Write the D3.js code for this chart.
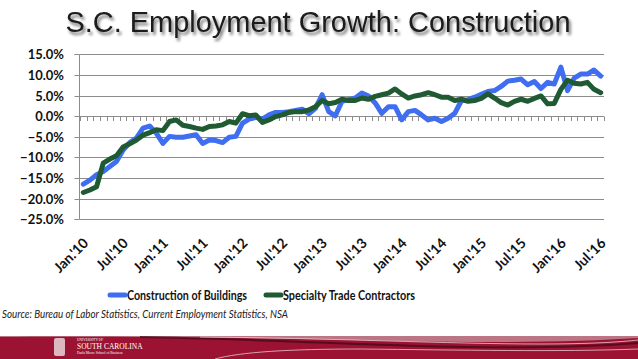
<!DOCTYPE html>
<html>
<head>
<meta charset="utf-8">
<script src="https://cdn.jsdelivr.net/npm/d3@7"></script>
<style>
  body { margin: 0; background: #fff; }
  svg { display: block; }
  .grid line { stroke: #8c8c8c; stroke-width: 1; }
  .axis text { font-family: Lato, "Liberation Sans", sans-serif; font-weight: bold; fill: #111; }
</style>
</head>
<body>
<div id="chart"></div>
<script>
// Monthly, Jan 2010 - Jul 2016, year-over-year % change
const months = d3.range(79).map(i => new Date(2010, i, 1));
const buildings = [
  -16.5, -15.5, -14.2, -13.4, -12.2, -11.0, -8.2, -6.4, -5.3, -2.9, -2.4, -4.1,
  -6.6, -4.9, -5.1, -5.1, -4.8, -4.5, -6.6, -5.8, -5.9, -6.4, -5.1, -4.9,
  -1.7, -0.7, -0.3, -0.7, 0.3, 0.9, 0.9, 1.1, 1.4, 1.7, 0.6, 1.9,
  5.2, 1.1, 0.1, 3.6, 4.0, 4.4, 5.6, 4.9, 3.2, 0.7, 2.3, 2.3,
  -0.9, 1.1, 1.4, 0.3, -0.9, -0.5, -1.3, -0.5, 0.7, 3.8, 4.0, 4.6,
  5.3, 6.0, 6.2, 7.2, 8.5, 8.7, 9.0, 7.6, 8.4, 6.7, 8.2, 7.8,
  11.9, 6.2, 9.2, 10.2, 10.2, 11.2, 9.7
];
const specialty = [
  -18.5, -17.9, -17.1, -11.4, -10.4, -9.6, -7.5, -6.7, -5.8, -4.6, -4.0, -3.3,
  -3.5, -1.3, -0.9, -2.2, -2.5, -2.9, -3.2, -2.5, -2.4, -2.1, -1.3, -1.7,
  0.6, 0.1, 0.3, -1.5, -0.9, -0.1, 0.3, 0.9, 1.1, 1.1, 1.5, 2.3,
  3.8, 3.0, 3.3, 4.1, 3.8, 3.8, 4.4, 4.1, 4.8, 5.2, 5.6, 6.6,
  5.4, 4.4, 4.9, 5.2, 5.7, 5.2, 4.6, 4.6, 3.8, 4.1, 3.6, 3.8,
  4.3, 5.4, 4.4, 3.3, 2.7, 3.6, 4.1, 3.6, 4.3, 4.9, 3.0, 3.1,
  6.5, 8.7, 8.0, 7.8, 8.2, 6.5, 5.7
];
const seriesNames = ["Construction of Buildings", "Specialty Trade Contractors"];
const seriesColors = ["#3f6ff0", "#1f5a33"];
const yTicks = [15, 10, 5, 0, -5, -10, -15, -20, -25];

const width = 638, height = 359;

const svg = d3.select("#chart").append("svg")
    .attr("width", width)
    .attr("height", height);

// drop shadow for title
const defs = svg.append("defs");
const shadow = defs.append("filter").attr("id", "shadow")
    .attr("x", "-5%").attr("y", "-20%").attr("width", "115%").attr("height", "160%");
shadow.append("feGaussianBlur").attr("in", "SourceAlpha").attr("stdDeviation", 1.4).attr("result", "blur");
shadow.append("feOffset").attr("in", "blur").attr("dx", 2).attr("dy", 2.5).attr("result", "off");
shadow.append("feComponentTransfer").attr("in", "off").attr("result", "soft")
  .append("feFuncA").attr("type", "linear").attr("slope", 0.55);
const merge = shadow.append("feMerge");
merge.append("feMergeNode").attr("in", "soft");
merge.append("feMergeNode").attr("in", "SourceGraphic");

svg.append("text")
    .attr("x", 318)
    .attr("y", 32)
    .attr("text-anchor", "middle")
    .attr("font-family", "'Liberation Sans', Arial, sans-serif")
    .attr("font-size", 29)
    .attr("textLength", 505)
    .attr("lengthAdjust", "spacingAndGlyphs")
    .attr("fill", "#1a1a1a")
    .attr("filter", "url(#shadow)")
    .text("S.C. Employment Growth: Construction");

const x = d3.scaleBand()
    .domain(d3.range(months.length))
    .range([80, 604])
    .padding(0);
const xc = i => x(i) + x.bandwidth() / 2;

const y = d3.scaleLinear()
    .domain([-25, 15])
    .range([219.3, 54.3]);

// gridlines
svg.append("g").attr("class", "grid")
  .selectAll("line")
  .data(yTicks)
  .join("line")
    .attr("x1", 80).attr("x2", 604)
    .attr("y1", d => Math.round(y(d)) + 0.5)
    .attr("y2", d => Math.round(y(d)) + 0.5);

// y axis
const yAxis = d3.axisLeft(y)
    .tickValues(yTicks)
    .tickSize(5)
    .tickPadding(10.5)
    .tickFormat(d => d3.format(".1f")(d) + "%");
const yAxisG = svg.append("g")
    .attr("class", "axis")
    .attr("transform", "translate(79.5,0)")
    .call(yAxis);
yAxisG.selectAll("text").attr("font-size", 13);
yAxisG.select(".domain").attr("stroke", "#8c8c8c").attr("d", "M-5," + (Math.round(y(15)) + 0.5) + "H0V" + (Math.round(y(-25)) + 0.5) + "H-5");
yAxisG.selectAll(".tick line").attr("stroke", "#8c8c8c");
yAxisG.selectAll(".tick").attr("transform", d => "translate(0," + (Math.round(y(d)) + 0.5) + ")");

// category axis along zero with small ticks between months
const zeroY = Math.round(y(0)) + 0.5;
svg.append("g")
  .selectAll("line")
  .data(d3.range(months.length + 1))
  .join("line")
    .attr("x1", i => Math.round(80 + i * x.step()) + 0.5)
    .attr("x2", i => Math.round(80 + i * x.step()) + 0.5)
    .attr("y1", zeroY)
    .attr("y2", zeroY + 4.5)
    .attr("stroke", "#8c8c8c");

// x labels every 6 months
const monthFmt = d => (d.getMonth() === 0 ? "Jan." : "Jul.") + "'" + d3.timeFormat("%y")(d);
svg.append("g").attr("class", "axis")
  .selectAll("text")
  .data(d3.range(0, months.length, 6))
  .join("text")
    .attr("transform", i => "translate(" + (xc(i) + 6) + ",244) rotate(-45)")
    .attr("text-anchor", "end")
    .attr("font-size", 14)
    .text(i => monthFmt(months[i]));

// lines
const line = d3.line()
    .x((d, i) => xc(i))
    .y(d => y(d));

[buildings, specialty].forEach((vals, k) => {
  svg.append("path")
      .datum(vals)
      .attr("fill", "none")
      .attr("stroke", seriesColors[k])
      .attr("stroke-width", 5)
      .attr("stroke-linejoin", "round")
      .attr("stroke-linecap", "round")
      .attr("d", line);
});

// legend
const legend = svg.append("g")
    .attr("font-family", "Lato, 'Liberation Sans', sans-serif")
    .attr("font-weight", "bold")
    .attr("font-size", 12.5);
const legendX = [110, 266];
const legendW = [120, 132];
seriesNames.forEach((name, k) => {
  legend.append("line")
      .attr("x1", legendX[k]).attr("x2", legendX[k] + 15)
      .attr("y1", 295).attr("y2", 295)
      .attr("stroke", seriesColors[k])
      .attr("stroke-width", 5)
      .attr("stroke-linecap", "round");
  legend.append("text")
      .attr("x", legendX[k] + 17)
      .attr("y", 299.5)
      .attr("fill", "#111")
      .attr("textLength", legendW[k])
      .attr("lengthAdjust", "spacingAndGlyphs")
      .text(name);
});

// source
svg.append("text")
    .attr("x", 2)
    .attr("y", 318)
    .attr("font-family", "Lato, 'Liberation Sans', sans-serif")
    .attr("font-style", "italic")
    .attr("font-size", 11.5)
    .attr("textLength", 286)
    .attr("lengthAdjust", "spacingAndGlyphs")
    .attr("fill", "#222")
    .text("Source: Bureau of Labor Statistics, Current Employment Statistics, NSA");

// footer banner
const banner = svg.append("g");
banner.append("rect")
    .attr("x", 0).attr("y", 336)
    .attr("width", width).attr("height", height - 336)
    .attr("fill", "#9c1233");
banner.append("path")
    .attr("d", "M0,337 C120,336 260,338 400,341 C500,343 580,342 638,338 L638,336 L0,336 Z")
    .attr("fill", "#c9a0a8").attr("opacity", 0.7);
banner.append("path")
    .attr("d", "M140,337 C260,339 380,346 470,347 C540,348 600,346 638,343")
    .attr("fill", "none").attr("stroke", "#3a0a14").attr("stroke-width", 2).attr("opacity", 0.7);
banner.append("path")
    .attr("d", "M200,337 C330,338 450,344 540,344 C590,344 620,342 638,340")
    .attr("fill", "none").attr("stroke", "#e9c8ce").attr("stroke-width", 1).attr("opacity", 0.8);
banner.append("path")
    .attr("d", "M215,359 C240,352 290,349 360,349 C460,350 560,352 638,349")
    .attr("fill", "none").attr("stroke", "#e7c3ca").attr("stroke-width", 1).attr("opacity", 0.8);

// logo
banner.append("rect")
    .attr("x", 54).attr("y", 338).attr("width", 11).attr("height", 18)
    .attr("rx", 2).attr("fill", "#e8d7da").attr("opacity", 0.85);
const logoText = banner.append("g")
    .attr("font-family", "'Liberation Serif', serif")
    .attr("fill", "#fff");
logoText.append("text").attr("x", 77).attr("y", 341).attr("font-size", 3.5).text("UNIVERSITY OF");
logoText.append("text").attr("x", 77).attr("y", 348.5).attr("font-size", 7.5).text("SOUTH CAROLINA");
logoText.append("text").attr("x", 77).attr("y", 353.5).attr("font-size", 3.5).text("Darla Moore School of Business");
</script>
</body>
</html>
